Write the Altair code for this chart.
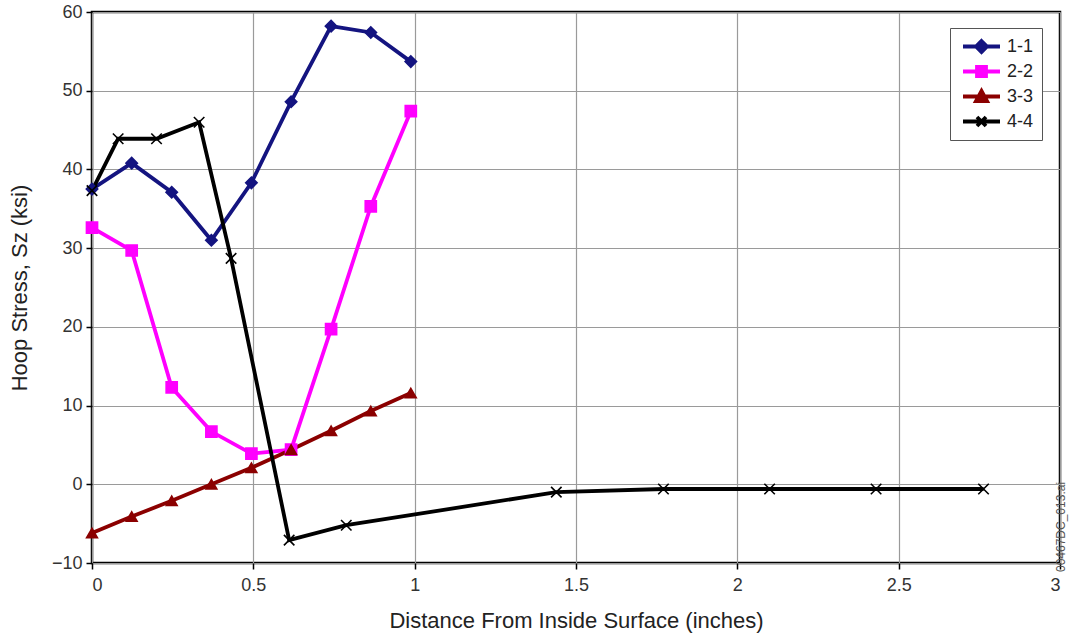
import altair as alt
import pandas as pd

series_names = ["1-1", "2-2", "3-3", "4-4"]
colors = ["#141480", "#ff00ff", "#8b0000", "#000000"]

x_a = [0.0, 0.123, 0.247, 0.370, 0.494, 0.617, 0.741, 0.864, 0.988]
s11 = [37.5, 40.8, 37.1, 31.0, 38.3, 48.6, 58.2, 57.4, 53.7]
s22 = [32.6, 29.7, 12.3, 6.7, 3.9, 4.4, 19.7, 35.3, 47.4]
s33 = [-6.2, -4.1, -2.1, 0.0, 2.1, 4.4, 6.8, 9.3, 11.6]
x_44 = [0.0, 0.081, 0.200, 0.332, 0.431, 0.611, 0.788, 1.439, 1.771, 2.100, 2.430, 2.763]
s44 = [37.3, 43.9, 43.9, 46.0, 28.7, -7.1, -5.2, -1.0, -0.6, -0.6, -0.6, -0.6]

rows = []
for name, xs, ys in [("1-1", x_a, s11), ("2-2", x_a, s22), ("3-3", x_a, s33), ("4-4", x_44, s44)]:
    for i, (xv, yv) in enumerate(zip(xs, ys)):
        rows.append({"series": name, "x": xv, "y": yv, "order": i})
df = pd.DataFrame(rows)

plot_shapes = ["diamond", "square", "triangle-up", "M-1,-1L1,1M-1,1L1,-1"]
marker_sizes = [130, 110, 130, 160]
# legend glyphs: a line segment with the series marker in its middle
legend_shapes = [
    "M-0.7,0L3,0M1.15,-0.55L1.7,0L1.15,0.55L0.6,0Z",
    "M-0.7,0L3,0M0.7,-0.45L1.6,-0.45L1.6,0.45L0.7,0.45Z",
    "M-0.7,0L3,0M1.15,-0.55L1.7,0.45L0.6,0.45Z",
    "M-0.7,0L3,0M0.7,-0.45L1.6,0.45M0.7,0.45L1.6,-0.45",
]

xscale = alt.Scale(domain=[0, 3], nice=False, zero=False)
yscale = alt.Scale(domain=[-10, 60], nice=False, zero=False)

x_enc = alt.X("x:Q", scale=xscale, title="Distance From Inside Surface (inches)",
              axis=alt.Axis(values=[0, 0.5, 1, 1.5, 2, 2.5, 3], format="~g"))
y_enc = alt.Y("y:Q", scale=yscale, title="Hoop Stress, Sz (ksi)",
              axis=alt.Axis(values=[-10, 0, 10, 20, 30, 40, 50, 60]))

base = alt.Chart(df)

lines = base.mark_line(strokeWidth=3.8).encode(
    x=x_enc, y=y_enc,
    order="order:Q",
    color=alt.Color("series:N", scale=alt.Scale(domain=series_names, range=colors), legend=None),
)

points = base.mark_point(filled=True, strokeWidth=1.6, opacity=1).encode(
    x=alt.X("x:Q", scale=xscale),
    y=alt.Y("y:Q", scale=yscale),
    fill=alt.Fill("series:N", scale=alt.Scale(domain=series_names, range=colors), legend=None),
    stroke=alt.Stroke("series:N", scale=alt.Scale(domain=series_names, range=colors), legend=None),
    shape=alt.Shape("series:N", scale=alt.Scale(domain=series_names, range=plot_shapes), legend=None),
    size=alt.Size("series:N", scale=alt.Scale(domain=series_names, range=marker_sizes), legend=None),
)

leg = alt.Legend(
    title=None, orient="none", legendX=858, legendY=16,
    symbolSize=400, symbolStrokeWidth=3.8, symbolOpacity=1,
    labelFont="Liberation Sans", labelFontSize=18, labelColor="#222222",
    strokeColor="#555555", fillColor="white", padding=8, rowPadding=4,
    clipHeight=21, labelOffset=25, symbolLimit=10,
)

legend_layer = base.transform_filter("datum.x > 100").mark_point(filled=True, opacity=1).encode(
    x=alt.X("x:Q", scale=xscale),
    y=alt.Y("y:Q", scale=yscale),
    fill=alt.Fill("series:N", scale=alt.Scale(domain=series_names, range=colors), legend=leg),
    stroke=alt.Stroke("series:N", scale=alt.Scale(domain=series_names, range=colors), legend=leg),
    shape=alt.Shape("series:N", scale=alt.Scale(domain=series_names, range=legend_shapes), legend=leg),
)

note = alt.Chart(pd.DataFrame({"t": ["00467DC_013.ai"]})).mark_text(
    angle=270, align="left", baseline="middle", fontSize=12, color="#555555",
    font="Liberation Sans",
).encode(text="t:N", x=alt.value(969), y=alt.value(560))

chart = alt.layer(lines, points, legend_layer, note).resolve_scale(
    color="independent", fill="independent", stroke="independent", shape="independent",
    size="independent",
).properties(
    width=968, height=551,
    autosize=alt.AutoSizeParams(type="none"),
    padding={"left": 92, "top": 12, "right": 9, "bottom": 71},
).configure_view(
    stroke="#000000", strokeWidth=2.5
).configure_axis(
    grid=True, gridColor="#9a9a9a", gridWidth=1.2,
    domain=False, tickColor="#000000", tickSize=6, tickWidth=1.5,
    labelFont="Liberation Sans", labelFontSize=18, labelColor="#333333",
    titleFont="Liberation Sans", titleFontSize=22, titleFontWeight="normal", titleColor="#222222",
).configure_axisY(
    labelPadding=4, titlePadding=20,
).configure_axisX(
    labelPadding=7, titlePadding=16,
)

chart.save("out.html", embed_options={"renderer": "svg", "actions": False})
